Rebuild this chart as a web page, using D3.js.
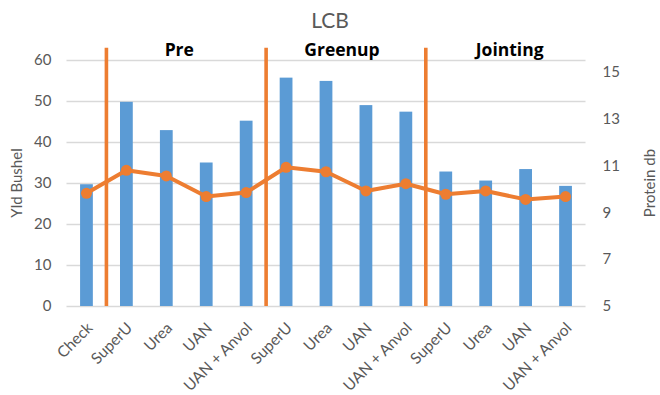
<!DOCTYPE html>
<html>
<head>
<meta charset="utf-8">
<script src="https://cdn.jsdelivr.net/npm/d3@7"></script>
<style>
  html, body { margin: 0; padding: 0; background: #fff; }
  svg { display: block; font-family: Lato, "Open Sans", sans-serif; }
</style>
</head>
<body>
<svg id="chart" width="660" height="395"></svg>
<script>
// Treatments, in plotting order
const categories = ["Check", "SuperU", "Urea", "UAN", "UAN + Anvol",
                    "SuperU", "Urea", "UAN", "UAN + Anvol",
                    "SuperU", "Urea", "UAN", "UAN + Anvol"];
// Yield (bu/ac), bars on the left axis
const yieldBushel = [29.7, 49.8, 42.9, 35.0, 45.2, 55.7, 54.9, 49.0, 47.4, 32.8, 30.6, 33.4, 29.3];
// Protein (dry basis %), line on the right axis
const proteinDb = [9.81, 10.79, 10.55, 9.67, 9.84, 10.92, 10.73, 9.91, 10.22, 9.77, 9.91, 9.55, 9.67];
// Application timings: first and last category index of each group
const timings = ["Pre", "Greenup", "Jointing"];
const timingStart = [1, 5, 9];
const timingEnd = [4, 8, 12];
// Divider lines sit just before each timing group; height in bushel units
const dividerTop = 63;
const yTicks = [0, 10, 20, 30, 40, 50, 60];
const proteinTicks = [5, 7, 9, 11, 13, 15];

const svg = d3.select("#chart");
const grey = "#595959";
const blue = "#5B9BD5";
const orange = "#ED7D31";

const plot = { left: 66.5, right: 585.5, top: 60, bottom: 306 };

const x = d3.scaleBand().domain(d3.range(categories.length))
  .range([plot.left, plot.right]).paddingInner(0).paddingOuter(0);
const y = d3.scaleLinear().domain([0, 60]).range([plot.bottom, plot.top]);
const y2 = d3.scaleLinear().domain([5, 15.5]).range([plot.bottom, plot.top]);
const cx = i => x(i) + x.bandwidth() / 2;

// Title
svg.append("text").attr("x", 330).attr("y", 28).attr("text-anchor", "middle")
  .attr("fill", grey).attr("font-size", 21).text("LCB");

// Gridlines and left axis
const yAxis = d3.axisLeft(y).tickValues(yTicks).tickSize(plot.right - plot.left).tickPadding(10);
const gY = svg.append("g").attr("transform", `translate(${plot.right},0)`).call(yAxis);
gY.select(".domain").remove();
gY.selectAll(".tick line").attr("stroke", "#D9D9D9").attr("stroke-width", 1.3);
gY.selectAll(".tick text").attr("fill", grey).attr("font-size", 15).attr("font-family", "Lato, sans-serif")
  .attr("x", -(plot.right - plot.left) - 15);

// Right axis (labels only)
const y2Axis = d3.axisRight(y2).tickValues(proteinTicks).tickSize(0).tickPadding(17);
const gY2 = svg.append("g").attr("transform", `translate(${plot.right},0)`).call(y2Axis);
gY2.select(".domain").remove();
gY2.selectAll(".tick text").attr("fill", grey).attr("font-size", 15).attr("font-family", "Lato, sans-serif");

// Bars
svg.append("g").selectAll("rect").data(yieldBushel).join("rect")
  .attr("x", (d, i) => cx(i) - x.bandwidth() * 0.16)
  .attr("width", x.bandwidth() * 0.32)
  .attr("y", d => y(d))
  .attr("height", d => y(0) - y(d))
  .attr("fill", blue);

// Timing dividers
svg.append("g").selectAll("line").data(timingStart).join("line")
  .attr("x1", d => x(d)).attr("x2", d => x(d))
  .attr("y1", y(0)).attr("y2", y(dividerTop))
  .attr("stroke", orange).attr("stroke-width", 3.6);

// Timing labels
const labelShift = [-7, -4, 4];
svg.append("g").selectAll("text").data(timings).join("text")
  .attr("x", (d, i) => (cx(timingStart[i]) + cx(timingEnd[i])) / 2 + labelShift[i])
  .attr("y", 55.5)
  .attr("text-anchor", "middle").attr("font-weight", "bold").attr("font-size", 17.5)
  .attr("font-family", "'Open Sans', sans-serif")
  .attr("fill", "#000").text(d => d);

// Protein line
const line = d3.line().x((d, i) => cx(i)).y(d => y2(d));
svg.append("path").datum(proteinDb).attr("d", line)
  .attr("fill", "none").attr("stroke", orange).attr("stroke-width", 4)
  .attr("stroke-linejoin", "round");
svg.append("g").selectAll("circle").data(proteinDb).join("circle")
  .attr("cx", (d, i) => cx(i)).attr("cy", d => y2(d)).attr("r", 5.5)
  .attr("fill", orange);

// Category labels
svg.append("g").selectAll("text").data(categories).join("text")
  .attr("transform", (d, i) => `translate(${cx(i) + 7},${plot.bottom + 23}) rotate(-45)`)
  .attr("text-anchor", "end").attr("font-size", 15.5).attr("fill", grey)
  .text(d => d);

// Axis titles
svg.append("text").attr("transform", `translate(22,${(plot.top + plot.bottom) / 2}) rotate(-90)`)
  .attr("text-anchor", "middle").attr("font-size", 15).attr("fill", grey).text("Yld Bushel");
svg.append("text").attr("transform", `translate(655,${(plot.top + plot.bottom) / 2}) rotate(-90)`)
  .attr("text-anchor", "middle").attr("font-size", 15).attr("fill", grey).text("Protein db");
</script>
</body>
</html>
